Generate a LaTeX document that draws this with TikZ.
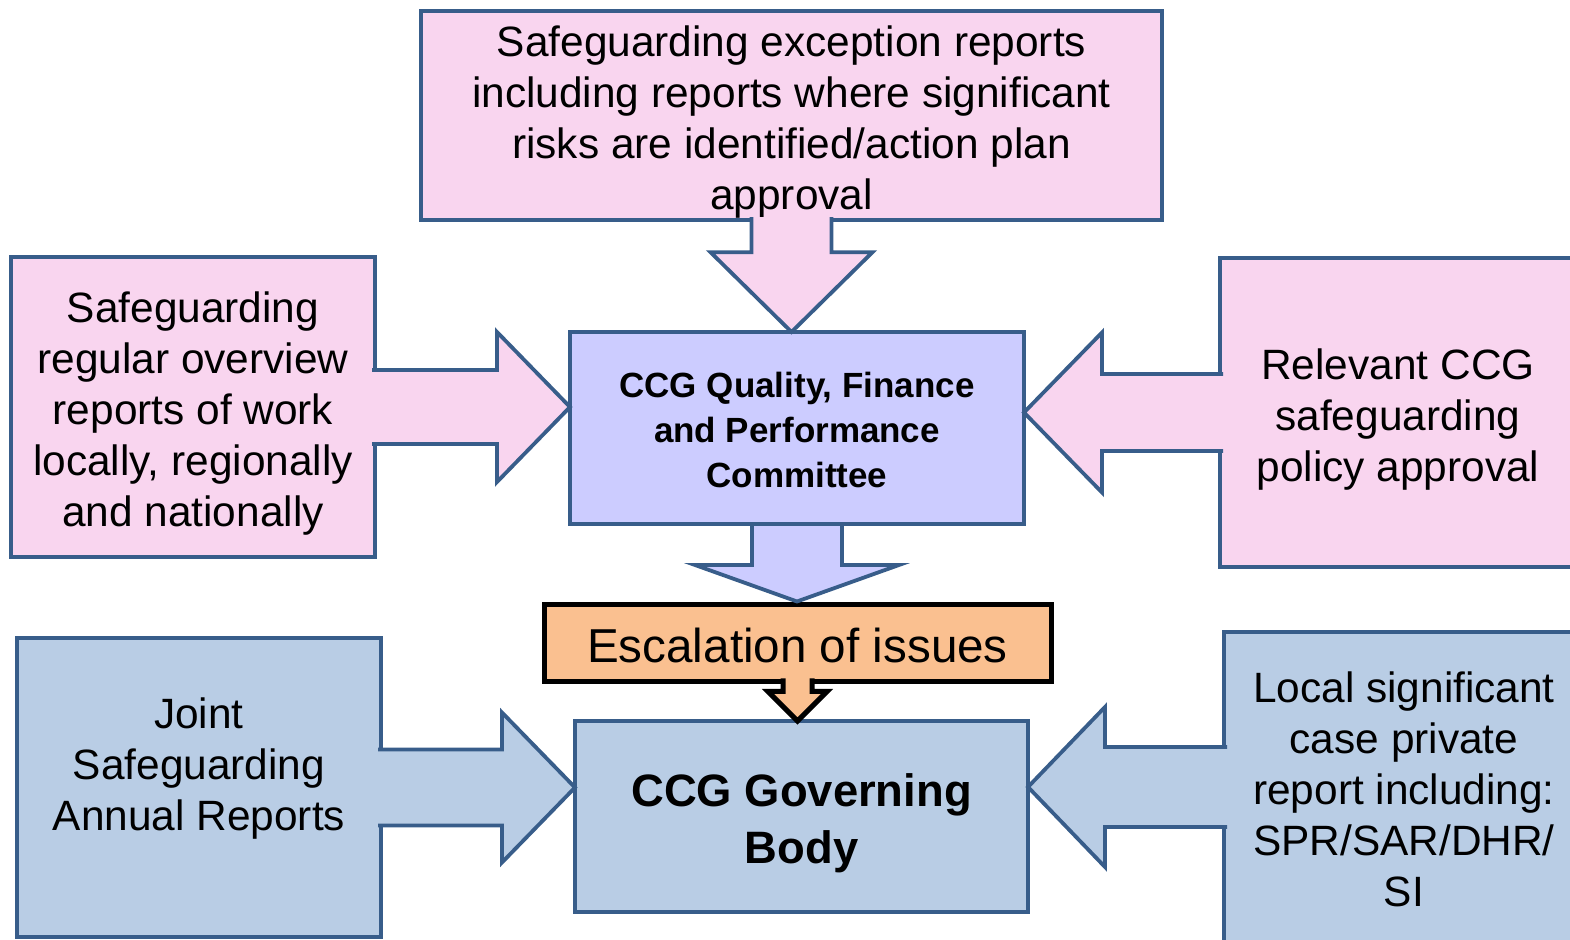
\documentclass[tikz,border=0pt]{standalone}
\usepackage{fontspec}
\setmainfont{Liberation Sans}
\usetikzlibrary{calc}
\definecolor{edgeblue}{HTML}{385D8A}
\definecolor{pinkbg}{HTML}{F9D5EF}
\definecolor{lilacbg}{HTML}{CCCCFF}
\definecolor{bluebg}{HTML}{B9CDE5}
\definecolor{orangebg}{HTML}{FAC090}
\newcommand{\firststrut}{\rule{0pt}{1.08em}}
\begin{document}
\begin{tikzpicture}[x=0.5pt, y=-0.5pt,
    box/.style={draw=edgeblue, line width=1.9pt, inner sep=0pt, outer sep=0pt,
      align=center, font=\fontsize{21.2}{25.5}\selectfont,
      execute at end node={\rule[-0.25em]{0pt}{0pt}}},
    pinkbox/.style={box, fill=pinkbg},
    bluebox/.style={box, fill=bluebg},
    pinkarrow/.style={draw=edgeblue, line width=1.9pt, fill=pinkbg},
    bluearrow/.style={draw=edgeblue, line width=1.9pt, fill=bluebg}]
          \useasboundingbox (0,0) rectangle (1570,940);
          \clip (0,0) rectangle (1570,940);

          \node[pinkbox, minimum width=370.5pt, minimum height=104.5pt] (excep) at (791.5,115.5)
            {\firststrut Safeguarding exception reports\\including reports where significant\\risks are identified/action plan\\approval};
          \node[box, fill=lilacbg, minimum width=227pt, minimum height=96pt,
            font=\bfseries\fontsize{17.5}{22.5}\selectfont] (qfp) at (797,428)
            {\firststrut CCG Quality, Finance\\and Performance\\Committee};
          \node[pinkbox, minimum width=182pt, minimum height=150pt] (overv) at (193,407)
            {\firststrut Safeguarding\\regular overview\\reports of work\\locally, regionally\\and nationally};
          \node[pinkbox, minimum width=178pt, minimum height=154.5pt] (policy) at (1398,412.5)
            {\firststrut Relevant CCG\\safeguarding\\policy approval};

          \node[box, draw=black, line width=2.5pt, fill=orangebg, minimum width=253.5pt, minimum height=38.5pt,
            font=\fontsize{23.8}{28}\selectfont] (escal) at (797.5,643) {\firststrut Escalation of issues};
          \node[bluebox, minimum width=226.5pt, minimum height=95.5pt,
            font=\bfseries\fontsize{22.7}{28.5}\selectfont] (gov) at (801.5,816.5) {\firststrut CCG Governing\\Body};
          \node[bluebox, minimum width=182pt, minimum height=149.5pt, text depth=31.3pt] (joint) at (199,787.5)
            {\firststrut Joint\\Safeguarding\\Annual Reports};
          \node[bluebox, minimum width=180pt, minimum height=155pt] (local) at (1404,787)
            {\firststrut Local significant\\case private\\report including:\\SPR/SAR/DHR/\\SI};

          \draw[pinkarrow] ($(excep.south)+(-40,-3)$) -- ++(0,35) -- ++(-41,0) -- (excep.south |- qfp.north)
            -- ($(excep.south)+(81,32)$) -- ++(-41,0) -- ++(0,-35);
          \draw[pinkarrow] ($(overv.east)+(-3,-37)$) -- ++(125,0) -- ++(0,-38) -- (qfp.west |- overv.east)
            -- ($(overv.east)+(122,75)$) -- ++(0,-38) -- ++(-125,0);
          \draw[pinkarrow] ($(policy.west)+(3,-38.5)$) -- ++(-121,0) -- ++(0,-41.5) -- (qfp.east |- policy.west)
            -- ($(policy.west)+(-118,80)$) -- ++(0,-41.5) -- ++(121,0);

          \draw[draw=edgeblue, line width=1.9pt, fill=lilacbg] ($(qfp.south)+(-45,0)$) -- ++(0,41) -- ++(-57,0)
            -- ($(qfp.south |- escal.north)+(0,-3)$) -- ($(qfp.south)+(102,41)$) -- ++(-57,0) -- ++(0,-41) -- cycle;
          \draw[draw=black, line width=2.5pt, fill=orangebg] ($(escal.south)+(-14.5,-3)$) -- ++(0,13) -- ++(-15,0)
            -- (escal.south |- gov.north) -- ($(escal.south)+(29.5,10)$) -- ++(-15,0) -- ++(0,-13);

          \draw[bluearrow] ($(joint.east)+(-3,-38)$) -- ++(124,0) -- ++(0,-37) -- (gov.west |- joint.east)
            -- ($(joint.east)+(121,75)$) -- ++(0,-37) -- ++(-124,0);
          \draw[bluearrow] ($(local.west)+(3,-40)$) -- ++(-122,0) -- ++(0,-40) -- (gov.east |- local.west)
            -- ($(local.west)+(-119,80)$) -- ++(0,-40) -- ++(122,0);
        \end{tikzpicture}
\end{document}
